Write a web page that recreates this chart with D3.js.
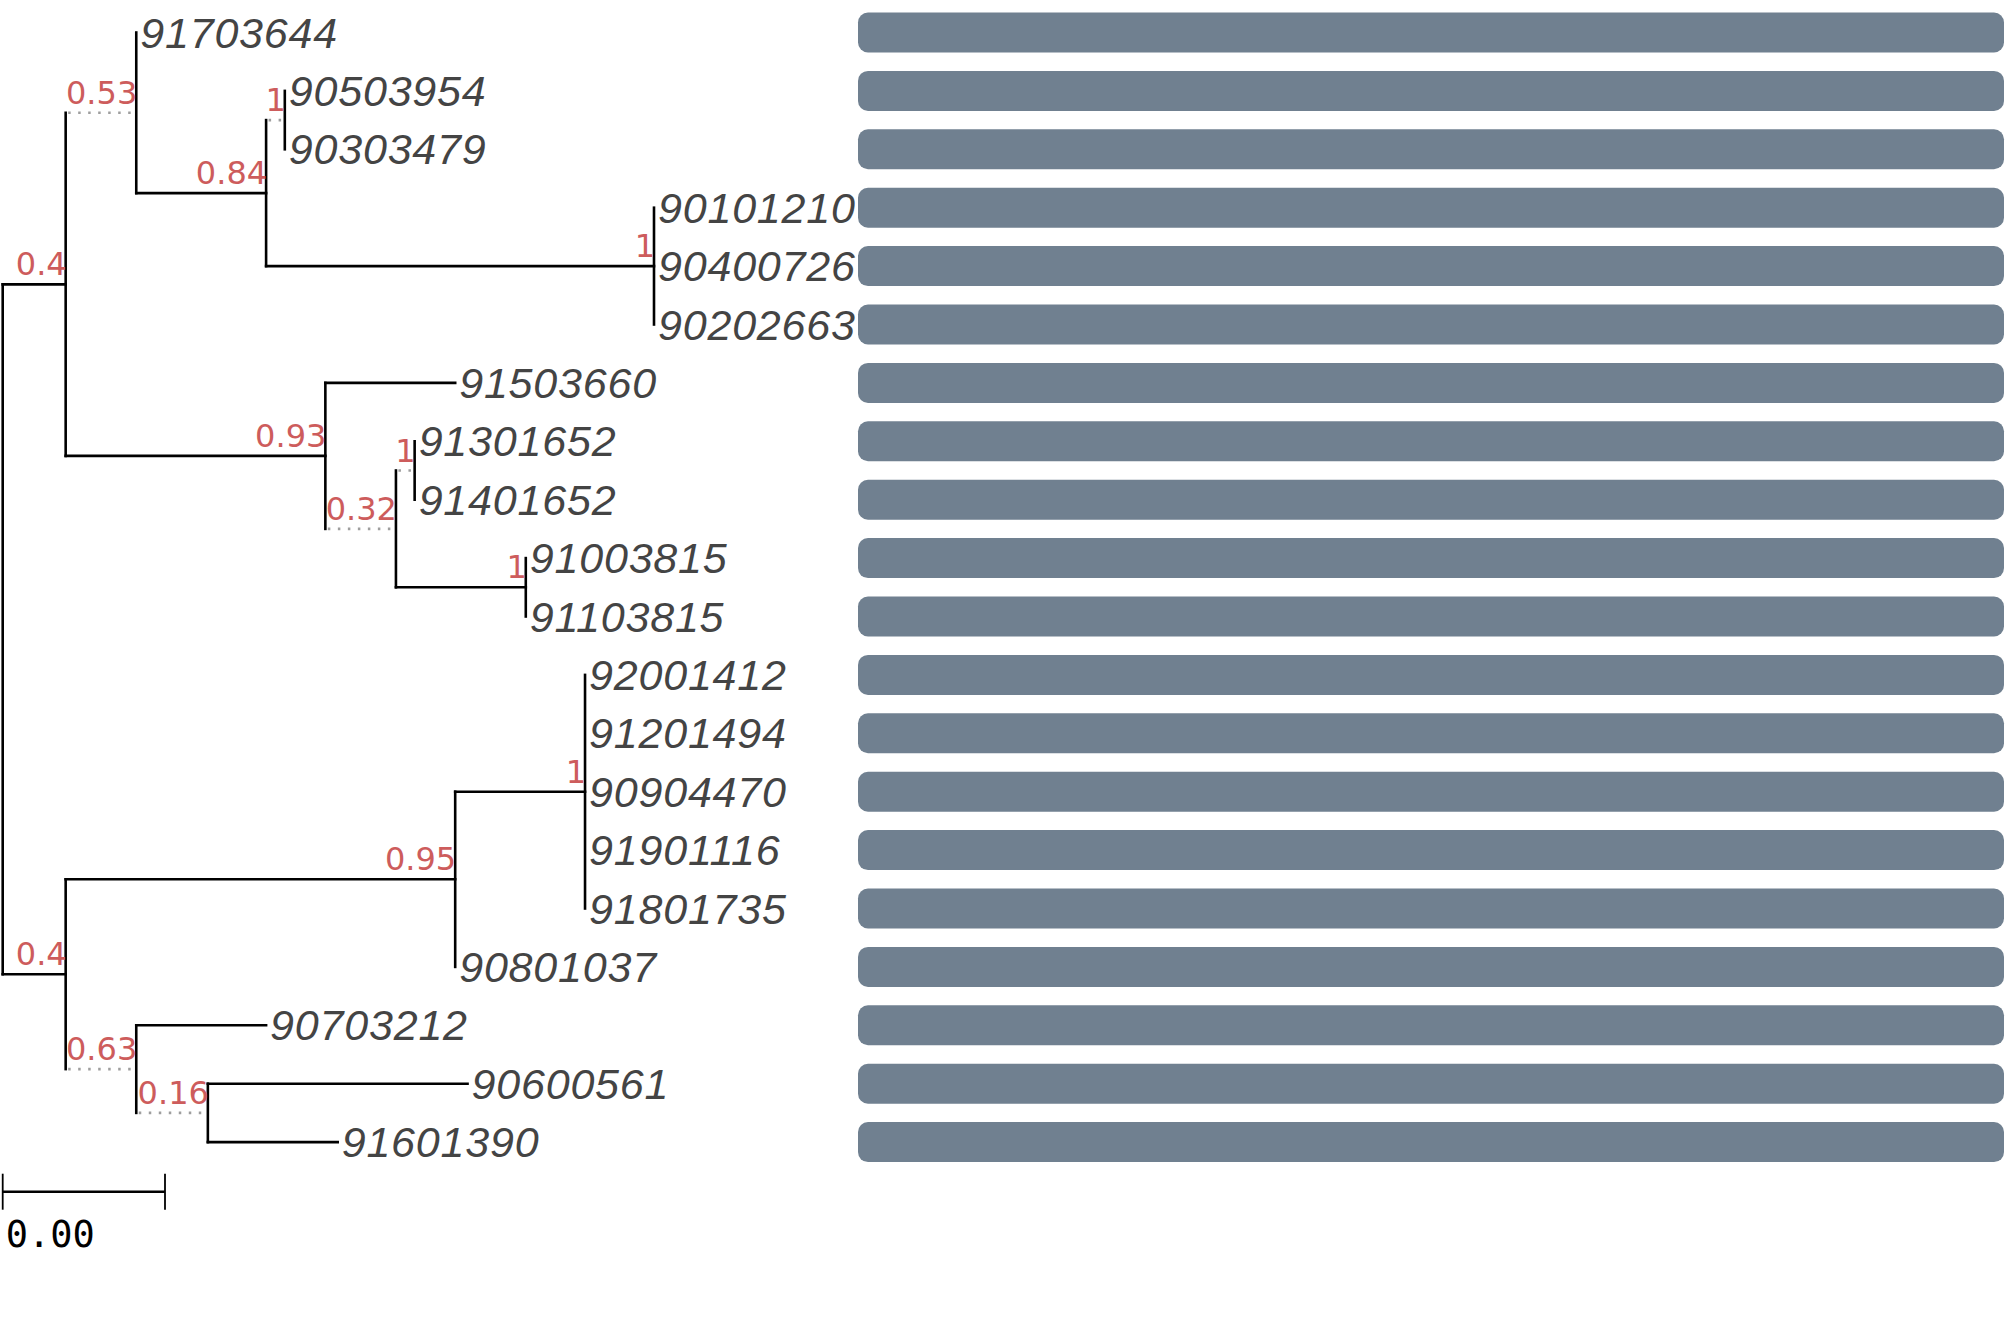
<!DOCTYPE html>
<html>
<head>
<meta charset="utf-8">
<script src="https://cdn.jsdelivr.net/npm/d3@7"></script>
<style>
  html, body { margin: 0; padding: 0; background: #fff; }
  svg { display: block; }
</style>
</head>
<body>
<div id="canvas"></div>
<script>
// tree as parallel arrays: node id, parent id, branch length, support value
var nodeId = ["root",
  "A", "A1", "91703644", "A1b", "A1b1", "90503954", "90303479",
  "A1b2", "90101210", "90400726", "90202663",
  "A2", "91503660", "A2b", "A2b1", "91301652", "91401652",
  "A2b2", "91003815", "91103815",
  "B", "B1", "B1a", "92001412", "91201494", "90904470", "91901116", "91801735",
  "90801037", "B2", "90703212", "B2b", "90600561", "91601390"];
var nodeParent = ["",
  "root", "A", "A1", "A1", "A1b", "A1b1", "A1b1",
  "A1b", "A1b2", "A1b2", "A1b2",
  "A", "A2", "A2", "A2b", "A2b1", "A2b1",
  "A2b", "A2b2", "A2b2",
  "root", "B", "B1", "B1a", "B1a", "B1a", "B1a", "B1a",
  "B1", "B", "B2", "B2", "B2b", "B2b"];
var branchLength = [0,
  0.000388, 0, 0, 0.0008, 0, 0, 0,
  0.00239, 0, 0, 0,
  0.0016, 0.0008, 0, 0, 0, 0,
  0.0008, 0, 0,
  0.000388, 0.0024, 0.0008, 0, 0, 0, 0, 0,
  0, 0, 0.0008, 0, 0.0016, 0.0008];
var support = [null,
  0.4, 0.53, null, 0.84, 1, null, null,
  1, null, null, null,
  0.93, null, 0.32, 1, null, null,
  1, null, null,
  0.4, 0.95, 1, null, null, null, null, null,
  null, 0.63, null, 0.16, null, null];
var scaleBarValue = 0.001;

var W = 2007, H = 1337;
var x0 = 2.7;
var barX = 858, barW = 1146, barH = 40;
var supportFont = '32px "DejaVu Sans"';

var svg = d3.select('#canvas').append('svg').attr('width', W).attr('height', H);

var rows = nodeId.map(function(id, i){
    return {id: id, parent: nodeParent[i] || null, len: branchLength[i], sup: support[i]};
});
var root = d3.stratify().id(function(d){ return d.id; }).parentId(function(d){ return d.parent; })(rows);

var leaves = root.leaves();
var xLen = d3.scaleLinear().domain([0, scaleBarValue]).range([0, 162.3]);
var yRow = d3.scaleLinear().domain([0, leaves.length - 1]).range([32.5, 32.5 + 58.4 * (leaves.length - 1)]);

//short branches get stretched so the support label fits above them
var ctx = document.createElement('canvas').getContext('2d');
ctx.font = supportFont;
function labelWidth(n){
    if (n.data.sup == null || !n.children) return 0;
    var m = ctx.measureText(String(n.data.sup));
    return m.actualBoundingBoxLeft + m.actualBoundingBoxRight + 3.7;
}

root.eachBefore(function(n){
    if (!n.parent){ n.x = x0; n.solidEnd = x0; return; }
    var l = xLen(n.data.len);
    n.solidEnd = n.parent.x + l;
    n.x = n.parent.x + Math.max(l, labelWidth(n));
});
leaves.forEach(function(n, i){ n.y = yRow(i); });
root.eachAfter(function(n){
    if (n.children) n.y = (n.children[0].y + n.children[n.children.length - 1].y) / 2;
});

var g = svg.append('g');
var nodes = root.descendants();

// vertical connectors
g.selectAll('line.v').data(nodes.filter(function(n){ return n.children; })).enter()
    .append('line').attr('class', 'v')
    .attr('x1', function(n){ return n.x; }).attr('x2', function(n){ return n.x; })
    .attr('y1', function(n){ return n.children[0].y; })
    .attr('y2', function(n){ return n.children[n.children.length - 1].y; })
    .attr('stroke', '#000').attr('stroke-width', 2.6).attr('stroke-linecap', 'square');

var branches = nodes.filter(function(n){ return n.parent; });
// solid part = real branch length
g.selectAll('line.h').data(branches.filter(function(n){ return n.solidEnd > n.parent.x; })).enter()
    .append('line').attr('class', 'h')
    .attr('x1', function(n){ return n.parent.x; }).attr('x2', function(n){ return n.solidEnd; })
    .attr('y1', function(n){ return n.y; }).attr('y2', function(n){ return n.y; })
    .attr('stroke', '#000').attr('stroke-width', 2.6).attr('stroke-linecap', 'square');
// dotted extension
g.selectAll('line.ext').data(branches.filter(function(n){ return n.x - n.solidEnd > 0.5; })).enter()
    .append('line').attr('class', 'ext')
    .attr('x1', function(n){ return n.solidEnd + 2.5; }).attr('x2', function(n){ return n.x - 2; })
    .attr('y1', function(n){ return n.y; }).attr('y2', function(n){ return n.y; })
    .attr('stroke', '#9e9e9e').attr('stroke-width', 2.6).attr('stroke-dasharray', '2.5 7.5');

// support values
g.selectAll('text.sup').data(branches.filter(function(n){ return n.children && n.data.sup != null; })).enter()
    .append('text').attr('class', 'sup')
    .attr('x', function(n){ return n.x + 1; }).attr('y', function(n){ return n.y - 9; })
    .attr('text-anchor', 'end').style('font', supportFont).attr('fill', '#cd5c5c')
    .text(function(n){ return n.data.sup; });

// leaf names
g.selectAll('text.leaf').data(leaves).enter()
    .append('text').attr('class', 'leaf')
    .attr('x', function(n){ return n.x + 4; }).attr('y', function(n){ return n.y + 15; })
    .style('font', 'italic 43px "Liberation Sans", Arial, sans-serif').style('letter-spacing', '0.8px')
    .attr('fill', '#444')
    .text(function(n){ return n.id; });

// bars
g.selectAll('rect.bar').data(leaves).enter()
    .append('rect').attr('class', 'bar')
    .attr('x', barX).attr('width', barW)
    .attr('y', function(n){ return n.y - barH / 2; }).attr('height', barH)
    .attr('rx', 10).attr('ry', 10).attr('fill', '#708090');

// scale bar
var sb = svg.append('g').attr('transform', 'translate(' + x0 + ',1191.7)');
var sbLen = xLen(scaleBarValue);
sb.append('line').attr('x1', 0).attr('x2', sbLen).attr('stroke', '#000').attr('stroke-width', 2.6);
sb.selectAll('line.tick').data([0, sbLen]).enter().append('line').attr('class', 'tick')
    .attr('x1', function(d){ return d; }).attr('x2', function(d){ return d; })
    .attr('y1', -18).attr('y2', 18).attr('stroke', '#000').attr('stroke-width', 1.8);
sb.append('text').attr('x', 3).attr('y', 55).style('font', '37px "DejaVu Sans Mono"').attr('fill', '#000')
    .text(d3.format('.2f')(scaleBarValue));
</script>
</body>
</html>
